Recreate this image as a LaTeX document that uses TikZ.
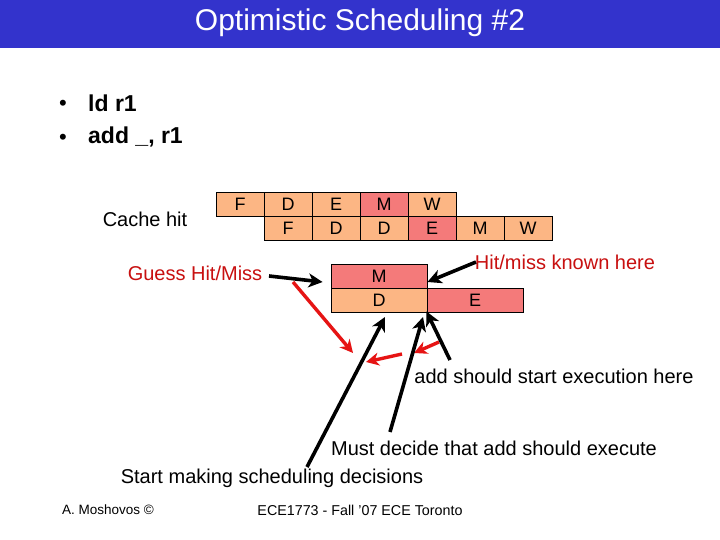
\documentclass[tikz,border=0pt]{standalone}
\usepackage{fontspec}
\setmainfont{Liberation Sans}
\usetikzlibrary{arrows.meta}
\definecolor{titleblue}{RGB}{51,51,204}
\definecolor{cellorg}{RGB}{252,182,132}
\definecolor{cellred}{RGB}{244,122,122}
\definecolor{txtred}{RGB}{200,16,16}
\definecolor{arrred}{RGB}{230,20,20}
\tikzset{
  cellbox/.style={draw=black, line width=0.9pt, minimum width=48pt, minimum height=24pt, inner sep=0pt, font=\fontsize{18}{20}\selectfont},
  orgcell/.style={cellbox, fill=cellorg},
  redcell/.style={cellbox, fill=cellred},
  widebox/.style={minimum width=96pt},
  lbl/.style={inner sep=0pt, font=\fontsize{20}{24}\selectfont},
  redlbl/.style={lbl, text=txtred},
  bul/.style={inner sep=0pt, font=\fontsize{22}{24}\selectfont},
  bultext/.style={anchor=west, inner sep=0pt, font=\fontsize{23}{26}\bfseries},
  blackarr/.style={line width=3.6pt, -{Stealth[length=14pt,width=14pt,inset=4pt]}},
  redarr/.style={line width=3.4pt, arrred, -{Stealth[length=13pt,width=13pt,inset=4pt]}},
  foot/.style={inner sep=0pt},
}
\begin{document}
\begin{tikzpicture}[x=1pt,y=-1pt]
\useasboundingbox (0,0) rectangle (720,540);
\fill[white] (0,0) rectangle (720,540);
% title bar
\fill[titleblue] (0,0) rectangle (720,48);
\node[text=white, font=\fontsize{30}{34}\selectfont, inner sep=0pt] (title) at (360,23) {Optimistic Scheduling \#2};
% bullets
\node[bul, anchor=base] (d1) at (63,111) {\textbullet};
\node[bultext] (b1) at (88,103) {ld r1};
\node[bul, anchor=base] (d2) at (63,145) {\textbullet};
\node[bultext] (b2) at (88,137) {add \_, r1};
% cache hit label
\node[lbl] (cache) at (145,219) {Cache hit};
% pipeline row 1
\node[orgcell] (r1c1) at (240,204) {F};
\node[orgcell] (r1c2) at (288,204) {D};
\node[orgcell] (r1c3) at (336,204) {E};
\node[redcell] (r1c4) at (384,204) {M};
\node[orgcell] (r1c5) at (432,204) {W};
% pipeline row 2
\node[orgcell] (r2c2) at (288,228) {F};
\node[orgcell] (r2c3) at (336,228) {D};
\node[orgcell] (r2c4) at (384,228) {D};
\node[redcell] (r2c5) at (432,228) {E};
\node[orgcell] (r2c6) at (480,228) {M};
\node[orgcell] (r2c7) at (528,228) {W};
% lower boxes
\node[redcell, widebox] (mbox) at (379,276) {M};
\node[orgcell, widebox] (dbox) at (379,300) {D};
\node[redcell, widebox] (ebox) at (475,300) {E};
% labels
\node[redlbl] (guess) at (195,273) {Guess Hit/Miss};
\node[redlbl] (known) at (565,262) {Hit/miss known here};
\node[lbl] (addstart) at (554,376) {add should start execution here};
\node[lbl] (must) at (494,448) {Must decide that add should execute};
\node[lbl] (startmk) at (272,478) {Start making scheduling decisions};
% footer
\node[foot, font=\fontsize{13.5}{16}\selectfont] (author) at (108,510) {A. Moshovos ©};
\node[foot, font=\fontsize{14.3}{16}\selectfont] (course) at (360,510) {ECE1773 - Fall '07 ECE Toronto};
% connector end points
\coordinate (g0) at (269,276);
\coordinate (g1) at ([xshift=-8pt,yshift=-6pt]mbox.west);
\coordinate (k0) at (476,262);
\coordinate (k1) at ([yshift=-6pt]mbox.east);
\coordinate (ra0) at (293,282);
\coordinate (ra1) at (353,353);
\coordinate (rb0) at (402,354);
\coordinate (rb1) at (366,362);
\coordinate (rc0) at (439,342);
\coordinate (rc1) at (414,353);
\coordinate (s0) at (307,467);
\coordinate (s1) at (385,317);
\coordinate (m0) at (390,432);
\coordinate (m1) at (423,317);
\coordinate (a0) at (450,360);
\coordinate (a1) at ([xshift=-1pt,yshift=1pt]dbox.south east);
% arrows
\draw[blackarr] (g0) -- (g1);
\draw[blackarr] (k0) -- (k1);
\draw[redarr] (ra0) -- (ra1);
\draw[redarr] (rb0) -- (rb1);
\draw[redarr] (rc0) -- (rc1);
\draw[blackarr] (s0) -- (s1);
\draw[blackarr] (m0) -- (m1);
\draw[blackarr] (a0) -- (a1);
\end{tikzpicture}
\end{document}
